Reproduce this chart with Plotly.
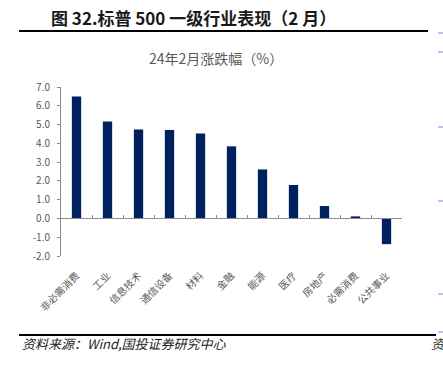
import plotly.graph_objects as go

categories = ["非必需消费", "工业", "信息技术", "通信设备", "材料", "金融",
              "能源", "医疗", "房地产", "必需消费", "公共事业"]
values = [6.50, 5.16, 4.74, 4.71, 4.53, 3.84, 2.61, 1.78, 0.66, 0.11, -1.37]
y_ticks = [7, 6, 5, 4, 3, 2, 1, 0, -1, -2]
header_text = "图 32.标普 500 一级行业表现（2 月）"
chart_title = "24年2月涨跌幅（%）"
source_text = "资料来源：Wind,国投证券研究中心"

W, H = 443, 372
L, R, T, B = 61, 41, 87, 116
PW, PH = W - L - R, H - T - B

def px(x):
    return (x - L) / PW

def py(y):
    return (H - B - y) / PH

FONT = "Noto Sans CJK SC"
GRAY = "#595959"
AXIS = "#8c8c8c"

fig = go.Figure()
fig.add_trace(go.Bar(x=categories, y=values, marker=dict(color="#002060", line=dict(width=0)),
                     width=0.3, hoverinfo="x+y"))
fig.add_trace(go.Scatter(x=categories, y=[0] * len(categories), xaxis="x2", mode="markers",
                         marker=dict(opacity=0), hoverinfo="skip", showlegend=False))

fig.update_layout(
    width=W, height=H, margin=dict(l=L, r=R, t=T, b=B, autoexpand=False),
    paper_bgcolor="white", plot_bgcolor="white", showlegend=False,
    font=dict(family=FONT, color=GRAY),
    xaxis=dict(type="category", range=[-0.5, len(categories) - 0.5], showline=False,
               ticks="", tickangle=-45, tickfont=dict(size=10, color=GRAY, family=FONT),
               ticklabelstandoff=11,
               showgrid=False, zeroline=False, automargin=False),
    xaxis2=dict(type="category", overlaying="x", matches="x", anchor="free",
                position=2 / 9, side="bottom", showline=True, linecolor=AXIS, linewidth=1,
                ticks="inside", tickson="boundaries", ticklen=3, tickcolor=AXIS,
                showticklabels=False, showgrid=False, zeroline=False, automargin=False),
    yaxis=dict(range=[-2, 7], tickvals=y_ticks, ticktext=[f"{v:.1f}" for v in y_ticks],
               showline=True, linecolor=AXIS, linewidth=1, ticks="outside", ticklen=3,
               tickcolor=AXIS, tickfont=dict(size=10, color=GRAY, family=FONT),
               ticklabelstandoff=5,
               showgrid=False, zeroline=False, automargin=False),
)

fig.add_shape(type="line", xref="paper", yref="paper", x0=px(19), x1=px(428), y0=py(31), y1=py(31),
              line=dict(color="black", width=2), layer="above")
fig.add_shape(type="line", xref="paper", yref="paper", x0=px(19), x1=px(436), y0=py(335), y1=py(335),
              line=dict(color="black", width=2), layer="above")
for yy in [33, 52, 127, 201, 294, 332]:
    fig.add_shape(type="line", xref="paper", yref="paper", x0=px(438), x1=px(443),
                  y0=py(yy), y1=py(yy), line=dict(color="#6a8fd0", width=1), layer="above")

fig.add_annotation(text="<b>" + header_text + "</b>", xref="paper", yref="paper",
                   x=px(49), y=py(17), xanchor="left", yanchor="middle", showarrow=False,
                   font=dict(size=17, color="#1a1a1a", family=FONT))
fig.add_annotation(text=chart_title, xref="paper", yref="paper",
                   x=px(216), y=py(58), xanchor="center", yanchor="middle", showarrow=False,
                   font=dict(size=14, color=GRAY, family=FONT))
fig.add_annotation(text="<i>" + source_text + "</i>", xref="paper", yref="paper",
                   x=px(20), y=py(343), xanchor="left", yanchor="middle", showarrow=False,
                   font=dict(size=13, color="#222222", family=FONT))
fig.add_annotation(text="<i>资</i>", xref="paper", yref="paper",
                   x=px(429), y=py(343), xanchor="left", yanchor="middle", showarrow=False,
                   font=dict(size=13, color="#222222", family=FONT))

fig.write_html("out.html", config={"displayModeBar": False},
               post_script="document.body.style.margin='0px';")
